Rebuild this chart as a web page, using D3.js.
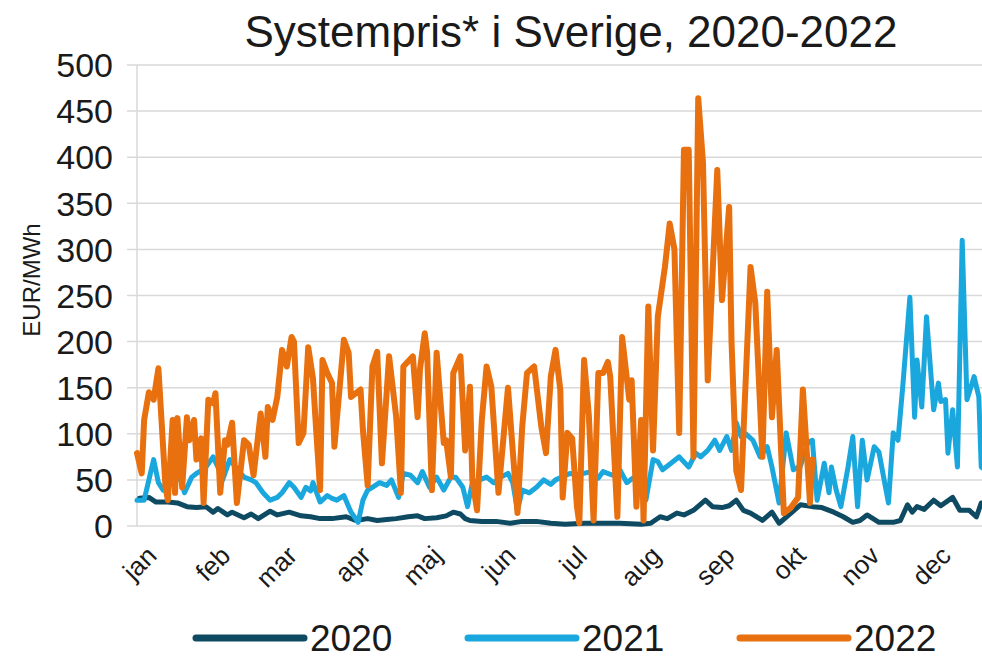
<!DOCTYPE html>
<html>
<head>
<meta charset="utf-8">
<script src="https://cdn.jsdelivr.net/npm/d3@7"></script>
<style>
  body { margin: 0; background: #fff; }
  text { font-family: "Liberation Sans", Arial, sans-serif; fill: #1a1a1a; }
</style>
</head>
<body>
<div id="chart"></div>
<script>
// month labels and the day of year each month starts
const months = ["jan", "feb", "mar", "apr", "maj", "jun", "jul", "aug", "sep", "okt", "nov", "dec"]
const monthStart = [0, 31, 59, 90, 120, 151, 181, 212, 243, 273, 304, 334]
const yTicks = [0, 50, 100, 150, 200, 250, 300, 350, 400, 450, 500]
const years = ["2020", "2021", "2022"]
const colors = ["#0e4a62", "#1aa7dd", "#e8700e"]

// [day of year, EUR/MWh]
const price2020 = [
  [1, 30], [5, 31], [8, 26], [13, 26], [17, 25], [21, 21], [25, 20], [29, 21], [32, 15], [34, 19],
  [38, 12], [40, 15], [45, 9], [48, 13], [51, 8], [56, 16], [59, 12], [64, 15], [69, 11], [73, 10],
  [77, 8], [82, 8], [88, 10], [92, 6], [97, 8], [101, 6], [105, 7], [109, 8], [114, 10], [118, 11],
  [121, 8], [126, 9], [130, 11], [133, 15], [136, 13], [138, 8], [140, 6], [145, 5], [151, 5], [157, 3],
  [162, 5], [168, 5], [174, 3], [180, 2], [188, 3], [195, 3], [203, 3], [212, 2], [216, 3], [220, 10],
  [223, 8], [227, 14], [230, 12], [234, 17], [239, 28], [242, 21], [246, 20], [249, 22], [252, 28], [255, 17],
  [258, 14], [263, 6], [267, 15], [270, 3], [275, 14], [279, 23], [284, 21], [288, 20], [293, 15], [297, 10],
  [301, 4], [304, 6], [307, 12], [312, 4], [318, 4], [321, 6], [324, 23], [326, 15], [328, 21], [331, 18],
  [335, 28], [338, 22], [343, 31], [346, 17], [350, 17], [353, 10], [355, 25], [358, 22]
]

const price2021 = [
  [0, 28], [3, 28], [5, 50], [7, 72], [9, 47], [11, 39], [14, 45], [18, 53], [20, 36], [23, 53],
  [25, 57], [27, 60], [29, 64], [32, 75], [34, 64], [36, 50], [39, 72], [42, 62], [45, 53], [48, 50],
  [50, 47], [53, 36], [56, 28], [59, 31], [61, 36], [64, 47], [66, 42], [69, 31], [71, 42], [73, 38],
  [74, 47], [77, 26], [80, 33], [82, 30], [84, 28], [87, 33], [89, 21], [90, 15], [93, 4], [95, 28],
  [97, 39], [99, 42], [102, 47], [105, 44], [107, 50], [110, 31], [112, 57], [115, 55], [118, 47], [120, 59],
  [123, 42], [126, 53], [129, 39], [132, 53], [134, 53], [137, 42], [139, 21], [141, 47], [144, 50], [147, 53],
  [150, 47], [153, 53], [156, 57], [158, 47], [160, 17], [162, 39], [165, 36], [168, 42], [171, 50], [174, 45],
  [176, 50], [182, 57], [186, 56], [191, 59], [194, 52], [196, 59], [200, 55], [203, 61], [206, 47], [209, 53],
  [212, 55], [214, 28], [217, 72], [219, 70], [221, 61], [224, 67], [228, 75], [232, 64], [235, 79], [237, 75],
  [240, 82], [243, 93], [245, 82], [248, 97], [250, 82], [252, 112], [254, 97], [256, 100], [259, 93], [262, 75],
  [265, 86], [267, 64], [270, 25], [273, 101], [276, 61], [279, 65], [282, 90], [284, 93], [286, 28], [289, 68],
  [291, 36], [292, 64], [294, 39], [296, 21], [299, 64], [301, 97], [303, 21], [305, 93], [307, 50], [310, 86],
  [312, 80], [316, 25], [318, 101], [320, 93], [322, 151], [325, 248], [327, 118], [328, 180], [330, 129], [332, 227],
  [335, 126], [337, 155], [338, 135], [340, 137], [341, 79], [343, 126], [345, 64], [347, 310], [349, 137], [352, 162],
  [354, 140], [355, 64], [357, 60]
]

const price2022 = [
  [0, 79], [2, 57], [3, 115], [5, 145], [7, 137], [9, 171], [12, 42], [13, 28], [15, 115], [16, 36],
  [17, 117], [19, 42], [21, 118], [22, 93], [24, 115], [25, 72], [27, 95], [28, 25], [30, 137], [32, 133],
  [33, 144], [35, 36], [37, 93], [38, 88], [40, 112], [42, 25], [45, 93], [47, 88], [49, 55], [52, 122],
  [54, 75], [55, 129], [57, 115], [59, 140], [61, 191], [63, 173], [65, 205], [66, 200], [68, 90], [70, 101],
  [72, 194], [74, 160], [75, 118], [77, 39], [78, 180], [80, 166], [82, 155], [83, 86], [87, 202], [89, 188],
  [90, 140], [94, 148], [95, 104], [97, 44], [99, 173], [101, 189], [103, 68], [106, 184], [109, 118], [111, 36],
  [112, 173], [116, 184], [118, 118], [119, 170], [121, 209], [122, 188], [124, 39], [126, 188], [129, 90], [130, 93],
  [132, 53], [133, 166], [136, 184], [138, 82], [140, 151], [141, 50], [143, 17], [145, 115], [147, 173], [149, 151],
  [152, 36], [156, 150], [160, 14], [162, 108], [164, 166], [167, 173], [170, 108], [172, 79], [174, 162], [176, 191],
  [178, 148], [179, 31], [181, 101], [183, 95], [185, 21], [186, 3], [188, 180], [190, 120], [192, 6], [194, 166],
  [196, 166], [198, 178], [199, 162], [202, 10], [204, 205], [207, 137], [208, 158], [210, 21], [212, 115], [213, 6],
  [215, 238], [217, 82], [219, 227], [222, 281], [224, 328], [226, 300], [228, 101], [230, 408], [232, 408], [234, 75],
  [236, 464], [238, 394], [240, 158], [244, 386], [246, 245], [249, 346], [250, 200], [252, 60], [254, 39], [258, 281],
  [260, 242], [263, 75], [265, 254], [267, 118], [269, 191], [272, 14], [275, 20], [278, 31], [280, 148], [283, 25],
  [284, 72]
]

const series = [price2020, price2021, price2022]

const width = 982
const height = 660

const svg = d3.select("#chart").append("svg").attr("width", width).attr("height", height)

const x = d3.scaleLinear().domain([0, 365]).range([137, 1005])
const y = d3.scaleLinear().domain([0, 500]).range([526, 65])

// grid lines
svg
  .append("g")
  .selectAll("line")
  .data(yTicks)
  .join("line")
  .attr("x1", 127)
  .attr("x2", width)
  .attr("y1", d => y(d))
  .attr("y2", d => y(d))
  .attr("stroke", "#d9d9d9")
  .attr("stroke-width", 1.5)

svg
  .append("line")
  .attr("x1", x(0))
  .attr("x2", x(0))
  .attr("y1", y(500))
  .attr("y2", y(0))
  .attr("stroke", "#d9d9d9")
  .attr("stroke-width", 1.5)

// y tick labels
svg
  .append("g")
  .selectAll("text")
  .data(yTicks)
  .join("text")
  .attr("x", 113)
  .attr("y", d => y(d))
  .attr("dy", "0.36em")
  .attr("text-anchor", "end")
  .style("font-size", "34px")
  .text(d => d)

// month labels
svg
  .append("g")
  .selectAll("text")
  .data(months)
  .join("text")
  .attr("text-anchor", "end")
  .attr("transform", (d, i) => `translate(${x(monthStart[i]) + 8},544) rotate(-45)`)
  .attr("dy", "0.72em")
  .style("font-size", "26px")
  .text(d => d)

const line = d3
  .line()
  .x(d => x(d[0]))
  .y(d => y(d[1]))

svg
  .append("g")
  .selectAll("path")
  .data(series)
  .join("path")
  .attr("d", line)
  .attr("fill", "none")
  .attr("stroke", (d, i) => colors[i])
  .attr("stroke-width", (d, i) => (i === 2 ? 6 : 5))
  .attr("stroke-linejoin", "round")
  .attr("stroke-linecap", "round")

// title
svg
  .append("text")
  .attr("x", 571)
  .attr("y", 47)
  .attr("text-anchor", "middle")
  .style("font-size", "44px")
  .text("Systempris* i Sverige, 2020-2022")

svg
  .append("text")
  .attr("transform", "translate(40,280) rotate(-90)")
  .attr("text-anchor", "middle")
  .style("font-size", "24px")
  .text("EUR/MWh")

// legend
const legend = svg
  .append("g")
  .selectAll("g")
  .data(years)
  .join("g")
  .attr("transform", (d, i) => `translate(${196 + i * 272},638)`)

legend
  .append("line")
  .attr("x1", 0)
  .attr("x2", 108)
  .attr("stroke", (d, i) => colors[i])
  .attr("stroke-width", 7)
  .attr("stroke-linecap", "round")

legend
  .append("text")
  .attr("x", 114)
  .attr("dy", "0.36em")
  .style("font-size", "37px")
  .text(d => d)
</script>
</body>
</html>
